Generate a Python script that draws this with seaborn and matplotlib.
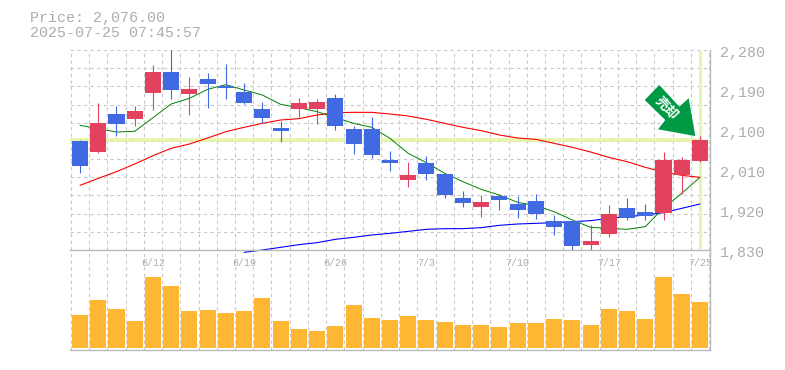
import matplotlib
matplotlib.use("Agg")
import matplotlib.pyplot as plt
from matplotlib.patches import Polygon
import seaborn as sns
import pandas as pd
import numpy as np

title_lines = ["Price: 2,076.00", "2025-07-25 07:45:57"]
price_ticks = [2280, 2190, 2100, 2010, 1920, 1830]
price_labels = ["2,280", "2,190", "2,100", "2,010", "1,920", "1,830"]
date_idx = [4, 9, 14, 19, 24, 29, 34]
date_labels = ["6/12", "6/19", "6/26", "7/3", "7/10", "7/17", "7/25"]
last_price = 2077.5

opens = [2075.25, 2050.5, 2136, 2124.75, 2183.25, 2230.5, 2181, 2214.75, 2199, 2185.5, 2147.25, 2104.5,
         2147.25, 2147.25, 2172, 2102.25, 2102.25, 2032.5, 1987.5, 2025.75, 2001, 1947, 1926.75, 1951.5,
         1933.5, 1940.25, 1895.25, 1895.25, 1841.25, 1866, 1924.5, 1915.5, 1913.25, 1998.75, 2030.25]
closes = [2019, 2115.75, 2113.5, 2142.75, 2230.5, 2190, 2192.25, 2203.5, 2194.5, 2160.75, 2127, 2097.75,
          2160.75, 2163, 2109, 2068.5, 2043.75, 2025.75, 1998.75, 2001, 1953.75, 1935.75, 1938, 1942.5,
          1920, 1911, 1881.75, 1839, 1850.25, 1911, 1902, 1906.5, 2032.5, 2032.5, 2077.5]
highs = [2077.5, 2160.75, 2154, 2154, 2246.25, 2280, 2219.25, 2228.25, 2248.5, 2205.75, 2163, 2120.25,
         2172, 2169.75, 2181, 2109, 2129.25, 2052.75, 2028, 2041.5, 2001, 1962.75, 1953.75, 1953.75,
         1951.5, 1956, 1908.75, 1895.25, 1886.25, 1931.25, 1947, 1933.5, 2050.5, 2039.25, 2086.5]
lows = [2003.25, 2048.25, 2086.5, 2109, 2145, 2169.75, 2133.75, 2149.5, 2169.75, 2158.5, 2115.75, 2073,
        2129.25, 2113.5, 2100, 2046, 2037, 2007.75, 1971.75, 1987.5, 1947, 1926.75, 1904.25, 1920,
        1902, 1899.75, 1863.75, 1830, 1830, 1859.25, 1897.5, 1897.5, 1897.5, 1956, 2028]

ma_short = [2110.5, 2103, 2095.5, 2097, 2127.75, 2158.5, 2171.25, 2191.5, 2202, 2190, 2178.75, 2157.75,
            2150.25, 2141.25, 2128.5, 2115, 2106, 2081.25, 2047.5, 2026.5, 2002.5, 1983.75, 1966.5, 1953.75,
            1937.25, 1929.75, 1916.25, 1897.5, 1881, 1878.75, 1876.5, 1882.5, 1924.5, 1957.5, 1993.5]
ma_mid = [1975.5, 1991.25, 2006.25, 2023.5, 2042.25, 2058.75, 2068.5, 2082, 2096.25, 2106, 2115, 2122.5,
          2125.5, 2133.75, 2139, 2139.75, 2139.75, 2136, 2131.5, 2124, 2115, 2106, 2098.5, 2088.75,
          2082, 2079, 2070, 2061, 2050.5, 2038.5, 2028.75, 2016, 2005.5, 1998, 1993.5]
ma_long_start = 9
ma_long = [1824.75, 1830, 1836, 1842, 1846.5, 1854, 1858.5, 1863.75, 1867.5, 1872, 1876.5, 1878, 1878,
           1880.25, 1885.5, 1888.5, 1890, 1891.5, 1893.75, 1896, 1901.25, 1905, 1908.75, 1914, 1923.75, 1933.5]

volume = [33, 48, 39, 27, 71, 62, 37, 38, 35, 37, 50, 27, 19, 17, 22, 43, 30, 28,
          32, 28, 26, 23, 23, 21, 25, 25, 29, 28, 23, 39, 37, 29, 71, 54, 46]

GREY = "#adadad"
GRID = "#c8c8c8"
RED = "#e3425f"
BLUE = "#4169e1"
ORANGE = "#ffb733"
HILITE = "#e6f5a9"
ARROW = "#009944"
W, H = 785, 370

sns.set_theme(style="white")
plt.rcParams["font.family"] = ["Liberation Mono", "Noto Sans CJK JP", "DejaVu Sans"]

fig = plt.figure(figsize=(W / 100, H / 100), dpi=100)
ax = fig.add_axes([70 / W, 1 - 250 / H, 640 / W, 200 / H])
axv = fig.add_axes([70 / W, 1 - 350 / H, 640 / W, 100 / H])

n = len(closes)
xs = np.arange(n)
xlim = (-0.55, n - 1 + 0.55)

# grid first, everything else on top
vgrid = np.arange(n + 1) - 0.5
hgrid = np.linspace(1830, 2280, 12)
dash = (0, (3, 3))
for a in (ax, axv):
    a.vlines(vgrid, 0, 1, transform=a.get_xaxis_transform(), color=GRID, linewidth=0.8, linestyles=dash, zorder=0)
ax.hlines(hgrid, *xlim, color=GRID, linewidth=0.8, linestyles=dash, zorder=0)

# current price crosshair
ax.hlines(last_price, xlim[0], n - 1, color=HILITE, linewidth=2.6, zorder=1)
ax.vlines(n - 1, 1832, 2280, color=HILITE, linewidth=2.2, zorder=1)

# moving averages, candles sit on top of them
sns.lineplot(x=xs, y=ma_mid, ax=ax, color="#ff0000", linewidth=0.8, zorder=2)
sns.lineplot(x=xs[ma_long_start:], y=ma_long, ax=ax, color="#0000ff", linewidth=0.8, zorder=2, clip_on=False)
sns.lineplot(x=xs, y=ma_short, ax=ax, color="#008000", linewidth=0.7, zorder=2)

# candles
for i in xs:
    col = RED if closes[i] >= opens[i] else BLUE
    ax.vlines(i, lows[i], highs[i], color=col, linewidth=0.8, zorder=3)
    ax.bar(i, abs(closes[i] - opens[i]), bottom=min(opens[i], closes[i]), width=0.88, color=col, linewidth=0, zorder=3)

ax.set_xlim(*xlim)
ax.set_ylim(1830, 2280)

# volume
df_vol = pd.DataFrame({"idx": xs, "volume": volume})
sns.barplot(data=df_vol, x="idx", y="volume", ax=axv, native_scale=True, color=ORANGE, saturation=1,
            width=0.88, linewidth=0, zorder=2)
axv.set_xlim(*xlim)
axv.set_ylim(-2, 98)

for a in (ax, axv):
    a.set_xlabel("")
    a.set_ylabel("")
    a.set_xticks([])
    a.set_yticks([])
    a.patch.set_alpha(0)
    for s in ("top", "left"):
        a.spines[s].set_visible(False)
    for s in ("right", "bottom"):
        a.spines[s].set_color("#bbbbbb")
        a.spines[s].set_linewidth(1)

# labels
for t, lab in zip(price_ticks, price_labels):
    ax.annotate(lab, xy=(1, t), xycoords=("axes fraction", "data"), xytext=(7, -2.2), textcoords="offset points",
                ha="left", va="center", color=GREY, fontsize=10.8, annotation_clip=False)
for i, lab in zip(date_idx, date_labels):
    axv.annotate(lab, xy=(i, 1), xycoords=("data", "axes fraction"), xytext=(0, -9), textcoords="offset points",
                 ha="center", va="center", color=GREY, fontsize=7.2, zorder=5)
fig.text(30 / W, 1 - 18 / H, title_lines[0], ha="left", va="center", color=GREY, fontsize=10.8)
fig.text(30 / W, 1 - 33 / H, title_lines[1], ha="left", va="center", color=GREY, fontsize=10.8)

# arrow badge
badge = [(659.3, 85), (644.7, 100), (665.3, 120), (658, 129.3), (695.3, 136), (688.7, 98.3), (679.3, 106.7)]
fig.add_artist(Polygon([(x / W, 1 - y / H) for x, y in badge], closed=True, transform=fig.transFigure,
                       facecolor=ARROW, edgecolor="none", zorder=6))
fig.text(666 / W, 1 - 108 / H, "売却", rotation=-47, rotation_mode="anchor", ha="center", va="center", color="white",
         fontsize=9.5, fontweight="bold", family=["Noto Sans CJK JP", "DejaVu Sans"], zorder=7)

fig.savefig("out.png", dpi=100)
